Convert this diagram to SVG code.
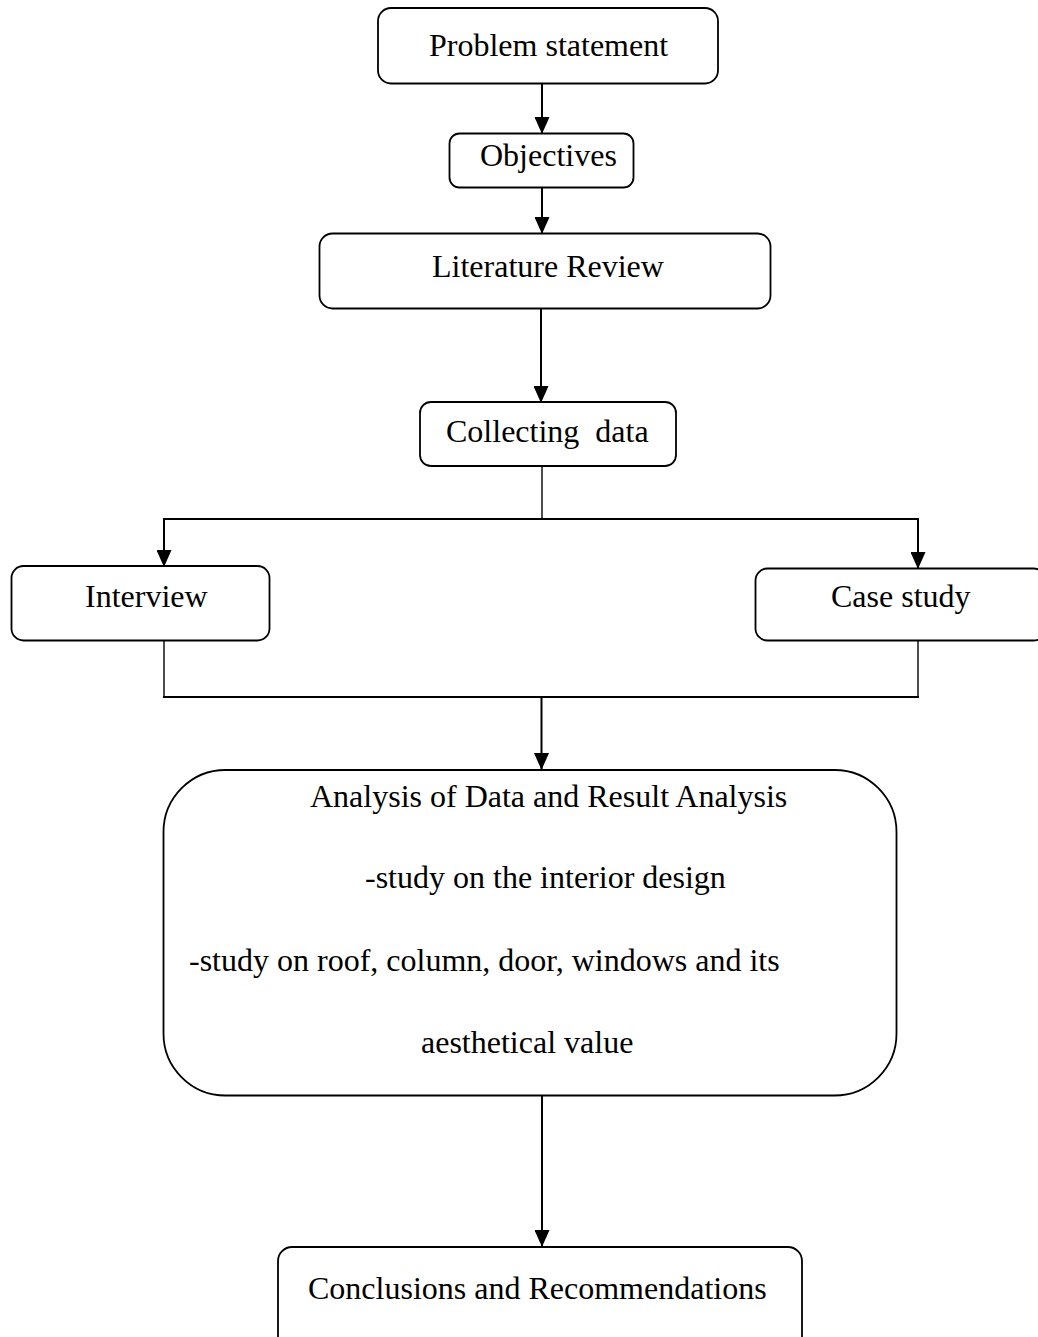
<svg xmlns="http://www.w3.org/2000/svg" width="1038" height="1337" viewBox="0 0 1038 1337">
<style>
.box{fill:#fff;stroke:#000;stroke-width:1.8}
.t{font-family:"Liberation Serif","Times New Roman",serif;font-size:32px;fill:#000;white-space:pre}
.ln{fill:none;stroke:#000;stroke-width:2}
.thin{fill:none;stroke:#000;stroke-width:1.4}
</style>
<defs>
<marker id="ah" markerUnits="userSpaceOnUse" markerWidth="17" markerHeight="15" refX="16" refY="7.5" orient="auto" viewBox="0 0 17 15">
<path d="M0,0 L17,7.5 L0,15 Z" fill="#000"/>
</marker>
</defs>
<rect width="1038" height="1337" fill="#fff"/>
<g id="connectors">
<line class="ln" x1="542" y1="84" x2="542" y2="133" marker-end="url(#ah)"/>
<line class="ln" x1="542" y1="188" x2="542" y2="233" marker-end="url(#ah)"/>
<line class="ln" x1="541" y1="309" x2="541" y2="402" marker-end="url(#ah)"/>
<line class="thin" x1="542" y1="466" x2="542" y2="519"/>
<polyline class="ln" points="164,566 164,519 918,519 918,568" marker-end="url(#ah)"/>
<line class="ln" x1="164" y1="519" x2="164" y2="566" marker-end="url(#ah)"/>
<polyline class="thin" points="164,641 164,697"/>
<polyline class="thin" points="918,641 918,697"/>
<line class="ln" x1="163" y1="697" x2="919" y2="697"/>
<line class="ln" x1="541.5" y1="697" x2="541.5" y2="769" marker-end="url(#ah)"/>
<line class="ln" x1="542" y1="1096" x2="542" y2="1246" marker-end="url(#ah)"/>
</g>
<g id="n-problem">
<rect class="box" x="378" y="8" width="340" height="75.5" rx="13"/>
<text class="t" x="429" y="56">Problem statement</text>
</g>
<g id="n-objectives">
<rect class="box" x="449.5" y="133.5" width="184" height="54" rx="10"/>
<text class="t" x="480" y="166">Objectives</text>
</g>
<g id="n-literature">
<rect class="box" x="319.5" y="233.5" width="451" height="75" rx="13"/>
<text class="t" x="432" y="277">Literature Review</text>
</g>
<g id="n-collecting">
<rect class="box" x="420" y="402" width="256" height="64" rx="11"/>
<text class="t" x="446" y="442">Collecting  data</text>
</g>
<g id="n-interview">
<rect class="box" x="11.5" y="566" width="258" height="74.5" rx="12"/>
<text class="t" x="85" y="607">Interview</text>
</g>
<g id="n-casestudy">
<rect class="box" x="755.5" y="568.5" width="290" height="72" rx="12"/>
<text class="t" x="831" y="607">Case study</text>
</g>
<g id="n-analysis">
<rect class="box" x="163.5" y="770" width="733" height="325.5" rx="62"/>
<text class="t" x="310" y="807">Analysis of Data and Result Analysis</text>
<text class="t" x="365" y="888">-study on the interior design</text>
<text class="t" x="189" y="971">-study on roof, column, door, windows and its</text>
<text class="t" x="421" y="1053">aesthetical value</text>
</g>
<g id="n-conclusions">
<rect class="box" x="278" y="1247" width="524" height="120" rx="14"/>
<text class="t" x="308" y="1299">Conclusions and Recommendations</text>
</g>
</svg>
